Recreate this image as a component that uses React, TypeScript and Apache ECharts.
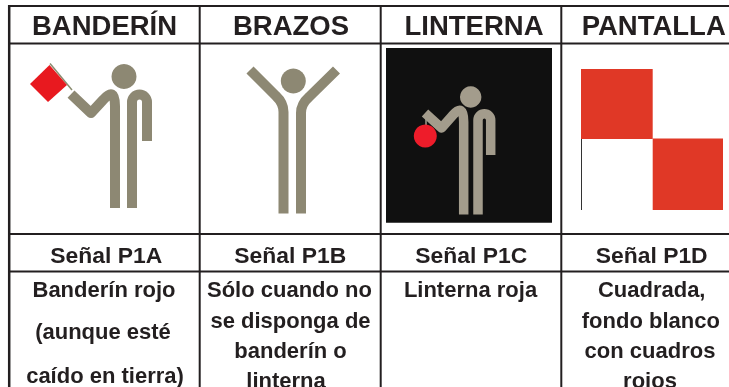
import React, { useEffect, useRef } from "react";
import * as echarts from "echarts";

const headers = ["BANDERÍN", "BRAZOS", "LINTERNA", "PANTALLA"];
const signals = ["Señal P1A", "Señal P1B", "Señal P1C", "Señal P1D"];
const notes = [
  ["Banderín rojo", "(aunque esté", "caído en tierra)"],
  ["Sólo cuando no", "se disponga de", "banderín o", "linterna"],
  ["Linterna roja"],
  ["Cuadrada,", "fondo blanco", "con cuadros", "rojos"],
];

const INK = "#231f20";
const FONT = '"Liberation Sans", Arial, sans-serif';

echarts.graphic.registerShape(
  "fig1",
  echarts.graphic.extendPath(
    "M71,94 L91,113 L103,100 Q115,86 115,106 L115,208 M132,208 L132,102 A7.5,7.5 0 0 1 147,102 L147,141",
    {}
  )
);
echarts.graphic.registerShape(
  "fig2",
  echarts.graphic.extendPath(
    "M250,70 L276,96 Q283.5,103 283.5,112 L283.5,213.5 M336.5,70 L309,97 Q301,104 301,113 L301,213.5",
    {}
  )
);
echarts.graphic.registerShape(
  "fig3",
  echarts.graphic.extendPath(
    "M425,113 L441.5,128 L453,115 Q463.7,103 463.7,122 L463.7,214.5 M478,214.5 L478,120 A6.3,6.3 0 0 1 490.7,120 L490.7,155",
    {}
  )
);

const text = (t: string, cx: number, cy: number, size: number, sx = 1) => ({
  type: "text",
  x: cx,
  y: cy,
  scaleX: sx,
  style: {
    text: t,
    fill: INK,
    font: `bold ${size}px ${FONT}`,
    align: "center",
    verticalAlign: "middle",
  },
});

const hLine = (y: number, w = 2) => ({
  type: "line",
  shape: { x1: 8, y1: y, x2: 729, y2: y },
  style: { stroke: INK, lineWidth: w },
});
const vLine = (x: number, w = 2) => ({
  type: "line",
  shape: { x1: x, y1: 5, x2: x, y2: 387 },
  style: { stroke: INK, lineWidth: w },
});
const head = (cx: number, cy: number, r: number, fill: string) => ({
  type: "circle",
  shape: { cx, cy, r },
  style: { fill },
});
const stick = (type: string, stroke: string, lineWidth: number) => ({
  type,
  x: 0,
  y: 0,
  style: { fill: "none", stroke, lineWidth, lineCap: "butt", lineJoin: "round" },
});

const headerX = [104.5, 291, 474, 653.7];
const signalX = [106.3, 290.3, 471.3, 651.7];
const noteX = [
  [104, 103, 105],
  [289.5, 290.5, 290.5, 286],
  [470.5],
  [651.7, 650.8, 650, 650],
];
const noteY = [
  [289, 331.7, 375],
  [289, 320, 350.7, 380],
  [289],
  [289, 320.5, 350.7, 380],
];

export default function App() {
  const ref = useRef<HTMLDivElement>(null);
  useEffect(() => {
    document.body.style.margin = "0";
    const chart = echarts.init(ref.current!, null, { renderer: "svg" });
    const GREY = "#8d8873";
    const GREY2 = "#a39c8c";
    chart.setOption({
      animation: false,
      backgroundColor: "#fff",
      graphic: {
        elements: [
          // pictograms
          { type: "line", shape: { x1: 50, y1: 63.5, x2: 72, y2: 90 }, style: { stroke: "#8a8c70", lineWidth: 1.5 } },
          { type: "polygon", shape: { points: [[49.5, 65], [67, 85], [48, 102], [30, 84]] }, style: { fill: "#e8191f" } },
          stick("fig1", GREY, 10),
          head(124, 76.5, 12.5, GREY),
          stick("fig2", GREY, 10),
          head(293.3, 81, 12.5, GREY),
          { type: "rect", shape: { x: 386, y: 48, width: 166, height: 174.7 }, style: { fill: "#101010" } },
          stick("fig3", GREY2, 9.5),
          head(470.7, 97, 10.7, GREY2),
          { type: "line", shape: { x1: 426, y1: 117, x2: 426, y2: 126 }, style: { stroke: GREY2, lineWidth: 1.5 } },
          head(425.3, 136, 11.5, "#ee1c2a"),
          { type: "rect", shape: { x: 581, y: 69, width: 71.7, height: 70 }, style: { fill: "#e03826" } },
          { type: "rect", shape: { x: 652.7, y: 138.5, width: 70.3, height: 71.5 }, style: { fill: "#e03826" } },
          { type: "line", shape: { x1: 581.5, y1: 139, x2: 581.5, y2: 210 }, style: { stroke: "#333", lineWidth: 1 } },
          // grid
          hLine(6),
          hLine(43.5),
          hLine(234),
          hLine(271.5),
          vLine(9.2, 2.5),
          vLine(199.7),
          vLine(380.7),
          vLine(561.3),
          // text
          ...headers.map((t, i) => text(t, headerX[i], 25, 27.5)),
          ...signals.map((t, i) => text(t, signalX[i], 256, 22, 1.04)),
          ...notes.flatMap((lines, i) =>
            lines.map((t, j) => text(t, noteX[i][j], noteY[i][j], 22))
          ),
        ],
      },
    });
    return () => chart.dispose();
  }, []);
  return <div ref={ref} style={{ width: 729, height: 387, filter: "blur(0.35px)" }} />;
}
